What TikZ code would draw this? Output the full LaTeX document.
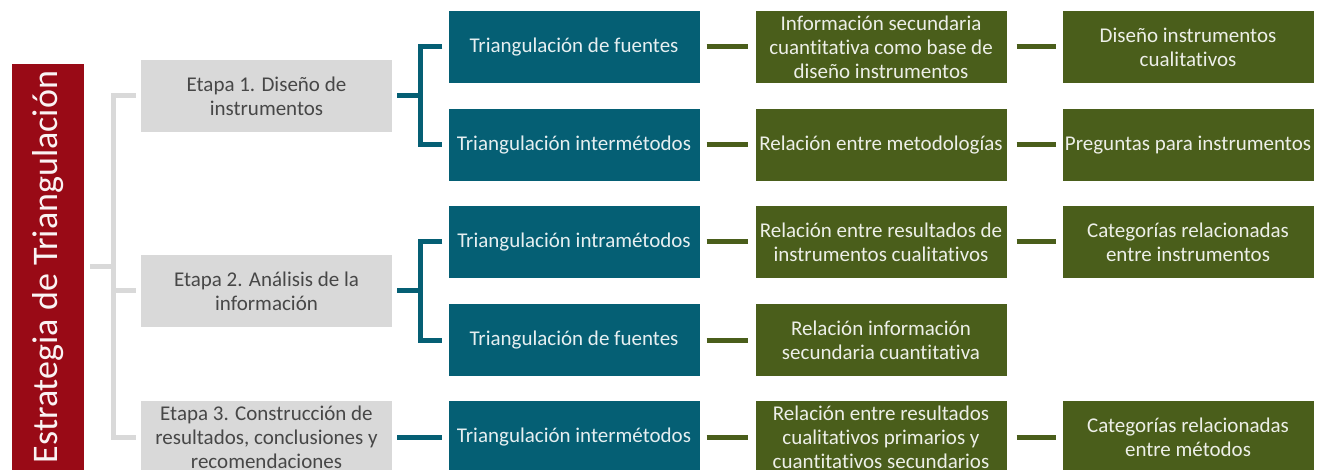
\documentclass[tikz,border=0pt]{standalone}
\usepackage{fontspec}
\setmainfont{Carlito}[Ligatures=NoCommon]
\usetikzlibrary{positioning}
\definecolor{titlered}{HTML}{990A16}
\definecolor{stagegray}{HTML}{D9D9D9}
\definecolor{methteal}{HTML}{055F74}
\definecolor{resgreen}{HTML}{4A5E1B}

\begin{document}
\begin{tikzpicture}[x=1pt, y=-1pt,
    stage/.style = {fill=stagegray, text=black!72, minimum width=251pt, minimum height=72pt,
        inner sep=0pt, align=center, font=\fontsize{21}{24}\selectfont},
    method/.style = {stage, fill=methteal, text=white!90!methteal},
    result/.style = {stage, fill=resgreen, text=white!90!resgreen},
    graylink/.style = {draw=stagegray, line width=5pt},
    teallink/.style = {draw=methteal, line width=5pt},
    greenlink/.style = {draw=resgreen, line width=5pt, shorten <=7pt, shorten >=7pt}]
    \clip (0,0) rectangle (1325,470);

    \node (title) at (48,267) [fill=titlered, rotate=90, minimum width=406pt, minimum height=72pt,
        inner sep=0pt, text=white!95!titlered, font=\fontsize{36}{40}\selectfont] {Estrategia de Triangulación};

    \node (e1) at (266.5,96)  [stage] {Etapa 1. Diseño de\\instrumentos};
    \node (e2) at (266.5,291) [stage] {Etapa 2. Análisis de la\\información};
    \node (e3) at (266.5,437) [stage] {Etapa 3. Construcción de\\resultados, conclusiones y\\recomendaciones};

    \node (t1) at (574,47)  [method] {Triangulación de fuentes};
    \node (t2) at (574,145) [method] {Triangulación intermétodos};
    \node (t3) at (574,242) [method] {Triangulación intramétodos};
    \node (t4) at (574,340) [method] {Triangulación de fuentes};
    \node (t5) at (574,437) [method] {Triangulación intermétodos};

    \node (r1) at (881,47)  [result] {Información secundaria\\cuantitativa como base de\\diseño instrumentos};
    \node (r2) at (881,145) [result] {Relación entre metodologías};
    \node (r3) at (881,242) [result] {Relación entre resultados de\\instrumentos cualitativos};
    \node (r4) at (881,340) [result] {Relación información\\secundaria cuantitativa};
    \node (r5) at (881,437) [result] {Relación entre resultados\\cualitativos primarios y\\cuantitativos secundarios};

    \node (s1) at (1188,47)  [result] {Diseño instrumentos\\cualitativos};
    \node (s2) at (1188,145) [result] {Preguntas para instrumentos};
    \node (s3) at (1188,242) [result] {Categorías relacionadas\\entre instrumentos};
    \node (s5) at (1188,437) [result] {Categorías relacionadas\\entre métodos};

    \coordinate (spine) at ([xshift=29pt]title.south);
    \draw[graylink] ([xshift=6pt]title.south) -- (spine);
    \draw[graylink] ([xshift=-5pt]e1.west) -| (spine) |- ([xshift=-5pt]e3.west);
    \draw[graylink] ([xshift=-5pt]e2.west) -- (e2.west -| spine);

    \coordinate (b1) at ([xshift=28pt]e1.east);
    \coordinate (b2) at ([xshift=28pt]e2.east);
    \draw[teallink] ([xshift=5pt]e1.east) -- (b1);
    \draw[teallink] ([xshift=-6pt]t1.west) -| (b1) |- ([xshift=-6pt]t2.west);
    \draw[teallink] ([xshift=5pt]e2.east) -- (b2);
    \draw[teallink] ([xshift=-6pt]t3.west) -| (b2) |- ([xshift=-6pt]t4.west);
    \draw[teallink, shorten <=5pt, shorten >=6pt] (e3) -- (t5);

    \foreach \i in {1,...,5} \draw[greenlink] (t\i) -- (r\i);
    \foreach \i in {1,2,3,5} \draw[greenlink, shorten <=10pt, shorten >=6pt] (r\i) -- (s\i);
\end{tikzpicture}
\end{document}
